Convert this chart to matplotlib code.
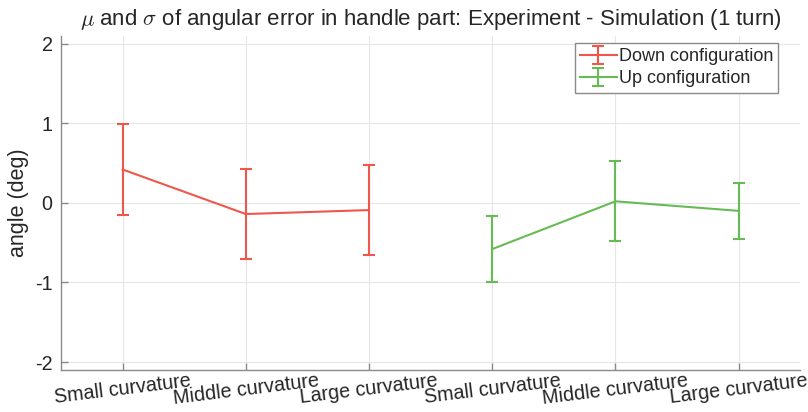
import matplotlib
matplotlib.use("Agg")
import matplotlib.pyplot as plt

plt.rcParams['font.family'] = ['Liberation Sans', 'DejaVu Sans']
plt.rcParams['mathtext.fontset'] = 'cm'

categories = ["Small curvature", "Middle curvature", "Large curvature",
              "Small curvature", "Middle curvature", "Large curvature"]
down_x = [1, 2, 3]
down_mean = [0.42, -0.14, -0.09]
down_std = [0.57, 0.56, 0.565]
up_x = [4, 5, 6]
up_mean = [-0.58, 0.02, -0.10]
up_std = [0.415, 0.505, 0.355]
yticks = [-2, -1, 0, 1, 2]

red = '#f0574c'
green = '#66bb55'
txt = '#262626'

fig = plt.figure(figsize=(8.08, 4.12), dpi=100)
ax = fig.add_axes([0.0755, 0.102, 0.915, 0.811])

ax.errorbar(down_x, down_mean, yerr=down_std, color=red, lw=1.5, capsize=4,
            capthick=1.5, label='Down configuration')
ax.errorbar(up_x, up_mean, yerr=up_std, color=green, lw=1.5, capsize=4,
            capthick=1.5, label='Up configuration')

ax.set_xlim(0.5, 6.5)
ax.set_ylim(-2.1, 2.1)
ax.set_yticks(yticks)
ax.set_yticklabels([str(v) for v in yticks])
ax.set_xticks(range(1, 7))
ax.set_xticklabels(categories, rotation=7, ha='center')
ax.grid(True, color='#e6e6e6', lw=0.8)
ax.set_axisbelow(True)
for s in ['top', 'right']:
    ax.spines[s].set_visible(False)
for s in ['left', 'bottom']:
    ax.spines[s].set_color('#8a8a8a')
    ax.spines[s].set_linewidth(1.0)
ax.tick_params(direction='in', length=5, color='#8a8a8a', labelsize=14.2,
               labelcolor=txt, width=1.0)
ax.tick_params(axis='x', pad=1)
ax.tick_params(axis='y', pad=6)
ax.set_ylabel('angle (deg)', fontsize=15.5, color=txt, labelpad=4)
ax.set_title(r'$\mu$ and $\sigma$ of angular error in handle part: Experiment - Simulation (1 turn)',
             fontsize=16, color=txt, pad=8)
leg = ax.legend(loc='upper right', bbox_to_anchor=(778 / 808, (412 - 43) / 412),
                bbox_transform=fig.transFigure, fontsize=13,
                frameon=True, fancybox=False, framealpha=1, edgecolor='#8a8a8a',
                borderpad=0.28, handlelength=2.05, handletextpad=0.1, labelspacing=0.3,
                borderaxespad=0.0)
leg.get_frame().set_linewidth(1.0)
for t in leg.get_texts():
    t.set_color(txt)

fig.savefig('out.png', dpi=100)
